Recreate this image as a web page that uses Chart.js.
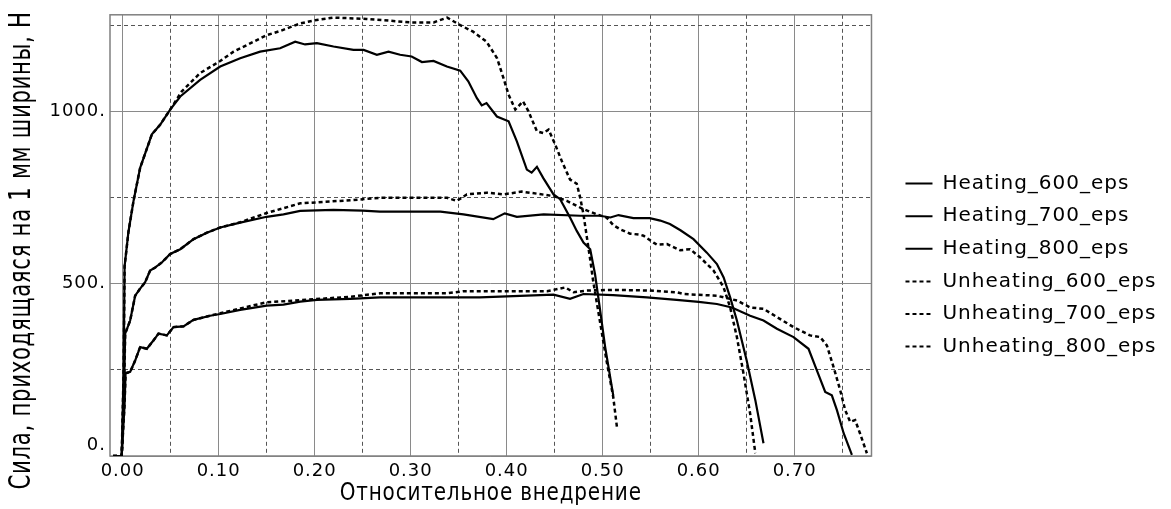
<!DOCTYPE html>
<html><head><meta charset="utf-8">
<script src="https://cdn.jsdelivr.net/npm/chart.js@4.4.0/dist/chart.umd.min.js"></script>
<style>html,body{margin:0;padding:0;background:#fff;}#wrap{width:1171px;height:509px;}</style>
</head><body><div id="wrap"><canvas id="c" width="1171" height="509"></canvas></div>
<script>
// ---- data ----
const seriesNames = ['Heating_600_eps','Heating_700_eps','Heating_800_eps','Unheating_600_eps','Unheating_700_eps','Unheating_800_eps'];

const h600X = [-0.010,-0.001,0.001,0.002,0.006,0.0113,0.0182,0.0304,0.039,0.0495,0.060,0.0807,0.1016,0.1224,0.1432,0.164,0.1797,0.190,0.2023,0.2196,0.2404,0.251,0.2648,0.2769,0.289,0.301,0.3117,0.3238,0.3377,0.3516,0.360,0.369,0.374,0.379,0.3898,0.402,0.4106,0.421,0.426,0.4315,0.438,0.4488,0.4557,0.466,0.473,0.480,0.487,0.492,0.4974,0.5026,0.511];
const h600Y = [0,0,250,550,650,740,836,933,961,1005,1043,1091,1130,1154,1173,1183,1202,1194,1198,1188,1178,1178,1164,1173,1164,1159,1143,1146,1130,1118,1087,1038,1017,1024,985,971,913,831,822,839,807,759,745,692,653,619,600,528,422,316,176];

const h700X = [-0.010,-0.001,0.0015,0.0026,0.0078,0.013,0.018,0.0234,0.0286,0.034,0.041,0.0495,0.060,0.0738,0.0877,0.1016,0.1224,0.150,0.1675,0.1849,0.2196,0.250,0.268,0.331,0.355,0.386,0.398,0.4106,0.4385,0.4766,0.497,0.508,0.5165,0.532,0.549,0.560,0.570,0.581,0.5946,0.6085,0.619,0.626,0.6328,0.6398,0.650,0.659,0.6675];
const h700Y = [0,0,200,355,393,465,485,504,538,547,562,586,600,629,648,663,677,694,701,711,714,712,709,709,701,687,704,694,701,697,697,692,699,690,690,683,673,655,629,590,557,518,460,393,277,162,37];

const h800X = [-0.010,-0.001,0.002,0.003,0.0078,0.013,0.0182,0.0252,0.032,0.0373,0.046,0.053,0.0633,0.0738,0.0911,0.1016,0.1224,0.150,0.1675,0.1849,0.2023,0.237,0.268,0.372,0.400,0.4488,0.466,0.480,0.511,0.546,0.577,0.600,0.619,0.6345,0.6536,0.6675,0.6815,0.6988,0.7144,0.723,0.7318,0.7387,0.744,0.751,0.7596];
const h800Y = [0,0,150,240,244,277,316,311,335,355,350,374,376,395,407,412,424,436,439,448,453,456,460,460,463,468,456,470,467,460,453,447,441,431,407,393,369,345,311,249,186,176,133,66,3];

const u600X = [-0.010,-0.001,0.001,0.002,0.006,0.0113,0.0182,0.0304,0.039,0.0495,0.0616,0.0807,0.1016,0.1155,0.1328,0.150,0.164,0.185,0.202,0.2196,0.254,0.282,0.300,0.324,0.338,0.3516,0.365,0.379,0.390,0.3967,0.402,0.409,0.417,0.4227,0.4315,0.438,0.4436,0.4505,0.4575,0.466,0.473,0.4766,0.480,0.4835,0.487,0.490,0.497,0.504,0.511,0.5148];
const u600Y = [0,0,250,550,650,740,836,933,961,1005,1058,1111,1146,1173,1197,1221,1233,1255,1265,1272,1268,1262,1258,1258,1272,1250,1231,1202,1154,1096,1048,1005,1029,1000,942,937,947,904,855,802,790,749,701,635,570,509,393,277,171,85];

const u700X = [-0.010,-0.001,0.0015,0.0026,0.0078,0.013,0.018,0.0234,0.0286,0.034,0.041,0.0495,0.060,0.0738,0.0877,0.1016,0.1224,0.150,0.185,0.237,0.268,0.338,0.348,0.3585,0.379,0.3967,0.4158,0.4315,0.449,0.4627,0.480,0.494,0.504,0.511,0.518,0.5286,0.539,0.5425,0.553,0.5565,0.567,0.5807,0.591,0.6016,0.6155,0.626,0.6328,0.6398,0.6467,0.6536,0.659];
const u700Y = [0,0,200,355,393,465,485,504,538,547,562,586,600,629,648,663,678,705,733,742,749,749,740,759,764,759,767,761,754,740,716,701,692,670,658,645,642,639,619,613,615,597,600,576,538,489,431,345,239,123,8];

const u800X = [-0.010,-0.001,0.002,0.003,0.0078,0.013,0.0182,0.0252,0.032,0.0373,0.046,0.053,0.0633,0.0738,0.0911,0.1016,0.1224,0.150,0.185,0.237,0.268,0.338,0.355,0.442,0.461,0.4696,0.4835,0.511,0.549,0.577,0.584,0.619,0.640,0.6536,0.6675,0.6815,0.6988,0.716,0.7266,0.7335,0.7405,0.7474,0.7526,0.7578,0.763,0.768,0.7752];
const u800Y = [0,0,150,240,244,277,316,311,335,355,350,374,376,395,407,414,428,446,452,462,472,472,478,478,489,475,480,482,480,475,470,465,451,431,427,403,374,350,345,321,258,191,133,99,104,66,8];

const xTickValues = [0,0.05,0.10,0.15,0.20,0.25,0.30,0.35,0.40,0.45,0.50,0.55,0.60,0.65,0.70,0.75];
const xTickLabels = ['0.00','','0.10','','0.20','','0.30','','0.40','','0.50','','0.60','','0.70',''];
const yTickValues = [0,250,500,750,1000,1250];
const yTickLabels = [['0.',''],'','500.','','1000.',''];
const xTitle = 'Относительное внедрение';
const yTitle = 'Сила, приходящаяся на 1 мм ширины, Н';

// ---- build ----
const zip = (xs, ys) => xs.map((x, i) => ({x: x, y: ys[i]}));
const seriesX = [h600X, h700X, h800X, u600X, u700X, u800X];
const seriesY = [h600Y, h700Y, h800Y, u600Y, u700Y, u800Y];

const datasets = seriesNames.map((name, i) => {
  const dotted = i >= 3;
  return {
    label: name,
    data: zip(seriesX[i], seriesY[i]),
    borderColor: '#000',
    backgroundColor: '#000',
    borderWidth: dotted ? 2.5 : 2.2,
    borderDash: dotted ? [4, 3] : [],
    pointRadius: 0,
    pointHoverRadius: 0,
    pointStyle: 'line',
    tension: 0,
    fill: false
  };
});

const spacingPlugin = {
  id: 'spacing',
  beforeUpdate(chart) { chart.ctx.letterSpacing = '1px'; },
  beforeDraw(chart) { chart.ctx.letterSpacing = '1px'; }
};
const framePlugin = {
  id: 'frame',
  beforeDatasetsDraw(chart) {
    const {ctx, chartArea: a} = chart;
    ctx.save();
    ctx.strokeStyle = '#808080';
    ctx.lineWidth = 1.5;
    ctx.setLineDash([]);
    ctx.strokeRect(a.left, a.top, a.right - a.left, a.bottom - a.top);
    ctx.restore();
  }
};
// axis titles drawn as condensed canvas text (no condensed font available)
const titlePlugin = {
  id: 'axisTitles',
  afterDraw(chart) {
    const {ctx, chartArea: a} = chart;
    ctx.save();
    ctx.fillStyle = '#000';
    ctx.textAlign = 'center';
    ctx.textBaseline = 'middle';
    ctx.font = "25px 'DejaVu Sans'";
    ctx.fillText(xTitle, (a.left + a.right) / 2, a.bottom + 37, 302);
    ctx.translate(21.5, (a.top + a.bottom) / 2 + 15);
    ctx.rotate(-Math.PI / 2);
    ctx.font = "31px 'DejaVu Sans'";
    ctx.fillText(yTitle, 0, 0, 478);
    ctx.restore();
  }
};

const tickFont = {family: 'DejaVu Sans', size: 18};
const isHalf = (c) => c.index % 2 === 1;

new Chart(document.getElementById('c'), {
  type: 'line',
  data: {datasets: datasets},
  plugins: [spacingPlugin, framePlugin, titlePlugin],
  options: {
    responsive: false,
    devicePixelRatio: 1,
    animation: false,
    layout: {padding: {top: 13, right: 4.6, bottom: 0, left: 0}},
    plugins: {
      tooltip: {enabled: false},
      legend: {
        position: 'right',
        align: 'center',
        maxWidth: 400,
        title: {display: true, text: ' ', font: {size: 6}, padding: 0.5},
        labels: {
          usePointStyle: true,
          pointStyleWidth: 27,
          boxHeight: 20,
          color: '#000',
          font: {family: 'DejaVu Sans', size: 20},
          padding: 12.6,
          generateLabels: (chart) => {
            const items = Chart.defaults.plugins.legend.labels.generateLabels(chart);
            items.forEach((it) => {
              const ds = chart.data.datasets[it.datasetIndex];
              it.lineDash = ds.borderDash;
              it.lineWidth = 2;
              it.strokeStyle = '#000';
              it.pointStyle = 'line';
            });
            return items;
          }
        }
      }
    },
    scales: {
      x: {
        type: 'linear',
        min: -0.0132,
        max: 0.78,
        afterBuildTicks: (s) => { s.ticks = xTickValues.map(v => ({value: v})); },
        afterFit: (s) => { s.height = 53; },
        ticks: {
          autoSkip: false, maxRotation: 0, padding: 5,
          color: '#000', font: tickFont,
          callback: (v, i) => xTickLabels[i]
        },
        grid: {
          drawTicks: false,
          lineWidth: 1,
          color: (c) => isHalf(c) ? '#555' : '#8a8a8a'
        },
        border: {
          display: false,
          dash: (c) => (c.tick && isHalf(c)) ? [4, 3] : []
        }
      },
      y: {
        type: 'linear',
        min: 0,
        max: 1280,
        afterBuildTicks: (s) => { s.ticks = yTickValues.map(v => ({value: v})); },
        afterFit: (s) => { s.width = 110; },
        ticks: {
          autoSkip: false, padding: 4,
          color: '#000', font: tickFont,
          callback: (v, i) => yTickLabels[i]
        },
        grid: {
          drawTicks: false,
          lineWidth: 1,
          color: (c) => isHalf(c) ? '#555' : '#8a8a8a'
        },
        border: {
          display: false,
          dash: (c) => (c.tick && isHalf(c)) ? [4, 3] : []
        }
      },
      spacer: {
        type: 'linear',
        position: 'right',
        display: true,
        afterFit: (s) => { s.width = 21.4; },
        ticks: {display: false},
        grid: {display: false},
        border: {display: false}
      }
    }
  }
});
</script>
</body></html>
